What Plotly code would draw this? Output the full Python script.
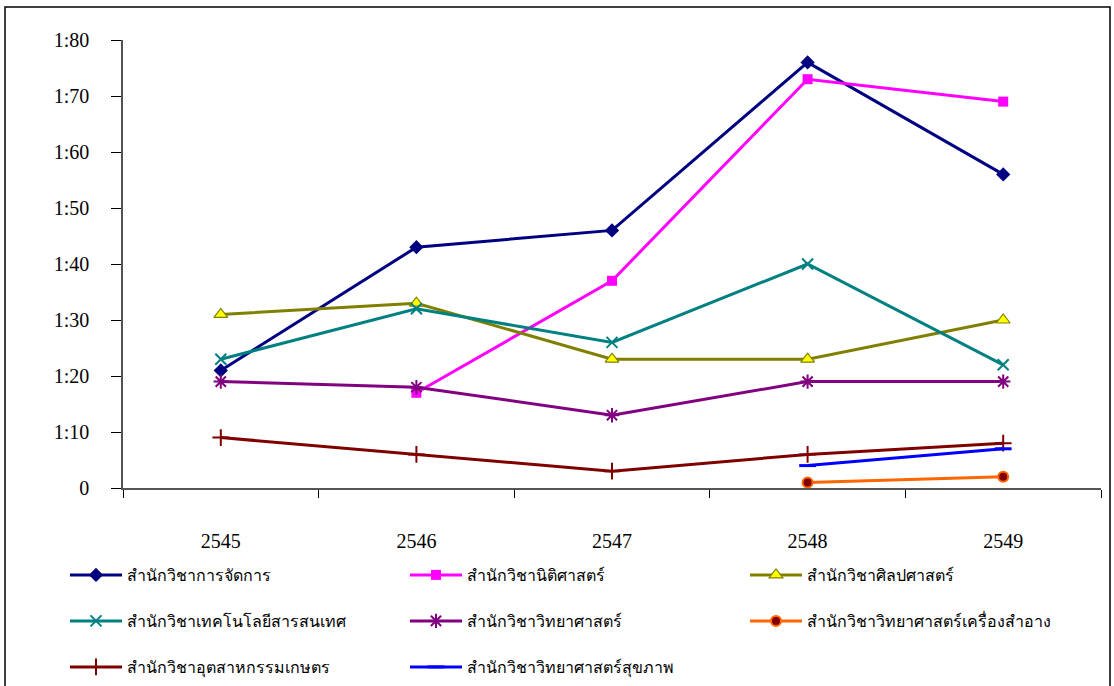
import plotly.graph_objects as go

years = ["2545", "2546", "2547", "2548", "2549"]

names = [
    "สำนักวิชาการจัดการ",
    "สำนักวิชานิติศาสตร์",
    "สำนักวิชาศิลปศาสตร์",
    "สำนักวิชาเทคโนโลยีสารสนเทศ",
    "สำนักวิชาวิทยาศาสตร์",
    "สำนักวิชาวิทยาศาสตร์เครื่องสำอาง",
    "สำนักวิชาอุตสาหกรรมเกษตร",
    "สำนักวิชาวิทยาศาสตร์สุขภาพ",
]

management = [21, 43, 46, 76, 56]
law = [None, 17, 37, 73, 69]
liberal_arts = [31, 33, 23, 23, 30]
info_tech = [23, 32, 26, 40, 22]
science = [19, 18, 13, 19, 19]
cosmetic = [None, None, None, 1, 2]
agro_industry = [9, 6, 3, 6, 8]
health = [None, None, None, 4, 7]

y_tickvals = [0, 10, 20, 30, 40, 50, 60, 70, 80]
y_ticktext = ["0", "1:10", "1:20", "1:30", "1:40", "1:50", "1:60", "1:70", "1:80"]

series = [management, law, liberal_arts, info_tech, science, cosmetic, agro_industry, health]

styles = [
    dict(color="#000080", marker=dict(symbol="diamond", size=11, color="#000080")),
    dict(color="#FF00FF", marker=dict(symbol="square", size=10, color="#FF00FF")),
    dict(color="#808000", marker=dict(symbol="triangle-up", size=12, color="#FFFF00",
                                      line=dict(color="#808000", width=1.2))),
    dict(color="#008080", marker=dict(symbol="x-thin", size=11, color="#008080",
                                      line=dict(color="#008080", width=2))),
    dict(color="#800080", marker=dict(symbol="asterisk", size=12, color="#800080",
                                      line=dict(color="#800080", width=2))),
    dict(color="#FF6600", marker=dict(symbol="circle", size=10, color="#800000",
                                      line=dict(color="#FF6600", width=2))),
    dict(color="#800000", marker=dict(symbol="cross-thin", size=12, color="#800000",
                                      line=dict(color="#800000", width=2))),
    dict(color="#0000FF", marker=dict(symbol="line-ew", size=12, color="#0000FF",
                                      line=dict(color="#0000FF", width=3))),
]

legend_of = ["legend", "legend", "legend", "legend2", "legend2", "legend2", "legend3", "legend3"]

fig = go.Figure()
for i, (nm, vals, st) in enumerate(zip(names, series, styles)):
    fig.add_trace(go.Scatter(
        x=years, y=vals, name=nm, mode="lines+markers",
        line=dict(color=st["color"], width=3),
        marker=st["marker"],
        connectgaps=False,
        legend=legend_of[i],
        hoverinfo="skip",
    ))

W, H = 1114, 686
left_px, right_px, top_px, bottom_px = 123, 1101, 40, 488  # plot area in page pixels
ml = left_px
mt = top_px
mr = W - right_px
mb = H - bottom_px
pw, ph = W - ml - mr, H - mt - mb

def px_to_paper_x(px):
    return (px - ml) / pw

def py_to_paper_y(py):
    return (H - mb - py) / ph

legend_common = dict(
    orientation="h", xanchor="left", yanchor="middle",
    font=dict(family="Liberation Serif, Noto Sans, serif", size=16, color="black"),
    itemwidth=52, entrywidth=273, entrywidthmode="pixels",
    bgcolor="rgba(0,0,0,0)", traceorder="normal",
)

fig.update_layout(
    width=W, height=H,
    margin=dict(l=ml, r=mr, t=mt, b=mb, autoexpand=False),
    paper_bgcolor="white", plot_bgcolor="white",
    font=dict(family="Liberation Serif, serif", size=20, color="black"),
    xaxis=dict(
        type="category", range=[-0.5, 4.5],
        showline=True, linecolor="#555555", linewidth=1.5,
        ticks="outside", tickson="boundaries", ticklen=8, tickcolor="black", tickwidth=1,
        showgrid=False, zeroline=False,
        ticklabelstandoff=34,
        tickfont=dict(family="Liberation Serif, serif", size=20, color="black"),
    ),
    yaxis=dict(
        range=[0, 80], tickvals=y_tickvals, ticktext=y_ticktext,
        showline=True, linecolor="#555555", linewidth=1.5,
        ticks="outside", ticklen=10, tickcolor="black", tickwidth=1,
        showgrid=False, zeroline=False,
        ticklabelstandoff=18,
        tickfont=dict(family="Liberation Serif, serif", size=20, color="black"),
    ),
    legend=dict(legend_common, x=px_to_paper_x(65), y=py_to_paper_y(575)),
    legend2=dict(legend_common, x=px_to_paper_x(65), y=py_to_paper_y(621)),
    legend3=dict(legend_common, x=px_to_paper_x(65), y=py_to_paper_y(667)),
    shapes=[dict(
        type="rect", xref="paper", yref="paper",
        x0=px_to_paper_x(5), x1=px_to_paper_x(1110),
        y0=py_to_paper_y(700), y1=py_to_paper_y(7),
        line=dict(color="black", width=1.5), fillcolor="rgba(0,0,0,0)", layer="above",
    )],
)

fig.write_html("out.html", config={"displayModeBar": False},
               post_script="document.body.style.margin='0px';")
